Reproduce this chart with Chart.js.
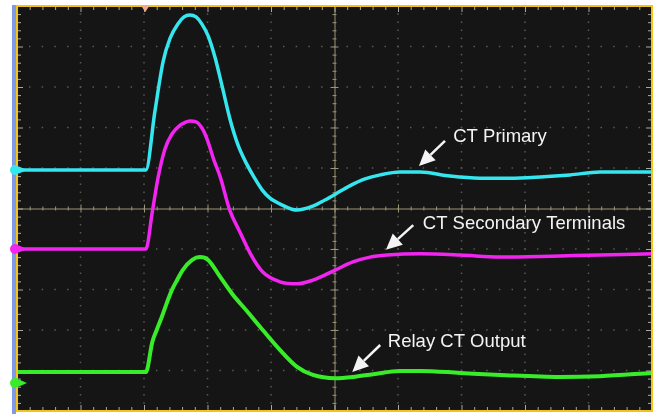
<!DOCTYPE html>
<html>
<head>
<meta charset="utf-8">
<script src="https://cdn.jsdelivr.net/npm/chart.js@4.4.1/dist/chart.umd.min.js"></script>
<style>
  html, body { margin: 0; padding: 0; background: #fff; }
  #wrap { width: 656px; height: 414px; }
</style>
</head>
<body>
<div id="wrap"><canvas id="scope"></canvas></div>
<script>
// time in divisions (0..10), amplitude in divisions (-5..5)
const primaryT = [0, 2.03, 2.17, 2.30, 2.41, 2.54, 2.63, 2.72, 2.82, 2.91, 3.01, 3.12, 3.23, 3.35, 3.48, 3.61, 3.73, 3.86, 3.98, 4.17, 4.41, 4.66, 4.85, 5.02, 5.24, 5.48, 5.72, 6.03, 6.35, 6.82, 7.29, 7.76, 8.24, 8.71, 9.18, 10]
const primaryV = [0.95, 0.95, 2.38, 3.62, 4.20, 4.57, 4.73, 4.78, 4.73, 4.56, 4.26, 3.72, 3.02, 2.23, 1.57, 1.12, 0.78, 0.46, 0.26, 0.09, -0.04, 0.06, 0.21, 0.36, 0.56, 0.73, 0.83, 0.90, 0.90, 0.80, 0.75, 0.75, 0.78, 0.83, 0.90, 0.90]

const secondaryT = [0, 2.03, 2.13, 2.22, 2.33, 2.44, 2.57, 2.63, 2.72, 2.82, 2.93, 3.01, 3.10, 3.20, 3.35, 3.51, 3.67, 3.87, 4.14, 4.41, 4.66, 5.01, 5.29, 5.56, 5.83, 6.35, 6.98, 7.61, 8.55, 9.18, 10]
const secondaryV = [-1.0, -1.0, -0.09, 0.75, 1.47, 1.84, 2.06, 2.11, 2.16, 2.14, 1.94, 1.64, 1.20, 0.78, -0.04, -0.58, -1.10, -1.57, -1.81, -1.86, -1.77, -1.52, -1.32, -1.20, -1.15, -1.12, -1.15, -1.20, -1.17, -1.15, -1.12]

const relayT = [0, 2.03, 2.13, 2.20, 2.28, 2.36, 2.44, 2.52, 2.61, 2.76, 2.88, 3.01, 3.20, 3.39, 3.62, 3.87, 4.14, 4.41, 4.66, 5.01, 5.29, 5.61, 6.03, 6.35, 6.98, 7.61, 8.55, 9.18, 10]
const relayV = [-4.04, -4.04, -3.30, -3.00, -2.68, -2.33, -2.01, -1.77, -1.52, -1.27, -1.20, -1.27, -1.69, -2.11, -2.53, -3.00, -3.49, -3.91, -4.11, -4.19, -4.16, -4.09, -4.01, -4.01, -4.06, -4.11, -4.16, -4.14, -4.06]

const channelColors = ['#35e6ee', '#f224f0', '#38ec2a']
const channelLevels = [0.95, -1.0, -4.31]
const triggerT = 2.02

// label text, text anchor [t, v], arrow tail [t, v], arrow tip [t, v]
const labels = [
  { text: 'CT Primary', at: [6.87, 1.64], tail: [6.74, 1.67], tip: [6.33, 1.05] },
  { text: 'CT Secondary Terminals', at: [6.39, -0.51], tail: [6.24, -0.41], tip: [5.81, -1.02] },
  { text: 'Relay CT Output', at: [5.84, -3.42], tail: [5.72, -3.37], tip: [5.28, -4.04] },
]

const pts = (ts, vs) => ts.map((t, i) => ({ x: t, y: vs[i] }))

const scopeGrid = {
  id: 'scopeGrid',
  beforeDatasetsDraw(chart) {
    const { ctx, chartArea: a, scales: { x, y } } = chart
    ctx.save()
    ctx.fillStyle = '#151515'
    ctx.fillRect(a.left, a.top, a.right - a.left, a.bottom - a.top)

    // dotted graticule
    ctx.fillStyle = '#5a5a52'
    for (let i = 1; i < 10; i++) {
      if (i === 5) continue
      const px = x.getPixelForValue(i)
      for (let j = 0; j <= 50; j++) ctx.fillRect(px - 0.75, y.getPixelForValue(-5 + j * 0.2) - 0.75, 1.5, 1.5)
    }
    for (let i = -4; i <= 4; i++) {
      if (i === 0) continue
      const py = y.getPixelForValue(i)
      for (let j = 0; j <= 50; j++) ctx.fillRect(x.getPixelForValue(j * 0.2) - 0.75, py - 0.75, 1.5, 1.5)
    }

    // centre cross
    const cx = x.getPixelForValue(5), cy = y.getPixelForValue(0)
    ctx.strokeStyle = '#9c9679'
    ctx.lineWidth = 1
    ctx.beginPath()
    ctx.moveTo(a.left, cy + 0.5); ctx.lineTo(a.right, cy + 0.5)
    ctx.moveTo(cx + 0.5, a.top); ctx.lineTo(cx + 0.5, a.bottom)
    for (let j = 0; j <= 50; j++) {
      const len = j % 5 === 0 ? 4 : 2
      const px = x.getPixelForValue(j * 0.2)
      ctx.moveTo(px + 0.5, cy - len); ctx.lineTo(px + 0.5, cy + len)
      const py = y.getPixelForValue(-5 + j * 0.2)
      ctx.moveTo(cx - len, py + 0.5); ctx.lineTo(cx + len, py + 0.5)
    }
    ctx.stroke()

    // edge ticks
    ctx.strokeStyle = '#a9a9a0'
    ctx.beginPath()
    for (let j = 1; j < 50; j++) {
      const len = j % 5 === 0 ? 6 : 4
      const px = x.getPixelForValue(j * 0.2) + 0.5
      ctx.moveTo(px, a.top); ctx.lineTo(px, a.top + len)
      ctx.moveTo(px, a.bottom); ctx.lineTo(px, a.bottom - len)
      const py = y.getPixelForValue(-5 + j * 0.2) + 0.5
      ctx.moveTo(a.left, py); ctx.lineTo(a.left + len, py)
      ctx.moveTo(a.right, py); ctx.lineTo(a.right - len, py)
    }
    ctx.stroke()
    ctx.restore()
  },
  afterDatasetsDraw(chart) {
    const { ctx, chartArea: a, scales: { x, y } } = chart
    ctx.save()
    // frame
    ctx.fillStyle = '#7f9be6'
    ctx.fillRect(a.left - 5, a.top - 1, 4, chart.height - a.top + 1)
    ctx.strokeStyle = '#f3c319'
    ctx.lineWidth = 2
    ctx.strokeRect(a.left, a.top, a.right - a.left, a.bottom - a.top)

    // channel markers
    channelLevels.forEach((v, i) => {
      const py = y.getPixelForValue(v)
      ctx.fillStyle = channelColors[i]
      ctx.beginPath()
      ctx.arc(a.left - 2, py, 5, 0, Math.PI * 2)
      ctx.fill()
      ctx.beginPath()
      ctx.moveTo(a.left + 2, py - 3.5); ctx.lineTo(a.left + 10, py); ctx.lineTo(a.left + 2, py + 3.5)
      ctx.fill()
    })

    // trigger marker
    const tx = x.getPixelForValue(triggerT)
    ctx.fillStyle = '#f2a88c'
    ctx.beginPath()
    ctx.moveTo(tx - 4, a.top); ctx.lineTo(tx + 4, a.top); ctx.lineTo(tx, a.top + 6)
    ctx.fill()

    // annotations
    ctx.fillStyle = '#f4f4f4'
    ctx.strokeStyle = '#f4f4f4'
    ctx.font = '18.5px "Liberation Sans", Arial, sans-serif'
    ctx.textBaseline = 'alphabetic'
    labels.forEach(l => {
      ctx.fillText(l.text, x.getPixelForValue(l.at[0]), y.getPixelForValue(l.at[1]))
      const x0 = x.getPixelForValue(l.tail[0]), y0 = y.getPixelForValue(l.tail[1])
      const x1 = x.getPixelForValue(l.tip[0]), y1 = y.getPixelForValue(l.tip[1])
      const ang = Math.atan2(y1 - y0, x1 - x0)
      const hl = 16, hw = 7.5
      const bx = x1 - hl * Math.cos(ang), by = y1 - hl * Math.sin(ang)
      ctx.lineWidth = 2.5
      ctx.beginPath()
      ctx.moveTo(x0, y0); ctx.lineTo(bx, by)
      ctx.stroke()
      ctx.beginPath()
      ctx.moveTo(x1, y1)
      ctx.lineTo(bx + hw * Math.sin(ang), by - hw * Math.cos(ang))
      ctx.lineTo(bx - hw * Math.sin(ang), by + hw * Math.cos(ang))
      ctx.closePath()
      ctx.fill()
    })
    ctx.restore()
  },
}

const trace = (data, color, width) => ({
  data, borderColor: color, borderWidth: width, pointRadius: 0,
  cubicInterpolationMode: 'monotone', fill: false,
})

new Chart(document.getElementById('scope'), {
  type: 'line',
  data: {
    datasets: [
      trace(pts(relayT, relayV), channelColors[2], 4),
      trace(pts(secondaryT, secondaryV), channelColors[1], 3.5),
      trace(pts(primaryT, primaryV), channelColors[0], 3.5),
    ],
  },
  options: {
    responsive: true,
    maintainAspectRatio: false,
    animation: false,
    layout: { padding: { left: 17, right: 4, top: 6, bottom: 3 } },
    plugins: { legend: { display: false }, tooltip: { enabled: false } },
    scales: {
      x: { type: 'linear', min: 0, max: 10, display: false },
      y: { type: 'linear', min: -5, max: 5, display: false },
    },
  },
  plugins: [scopeGrid],
})
</script>
</body>
</html>
